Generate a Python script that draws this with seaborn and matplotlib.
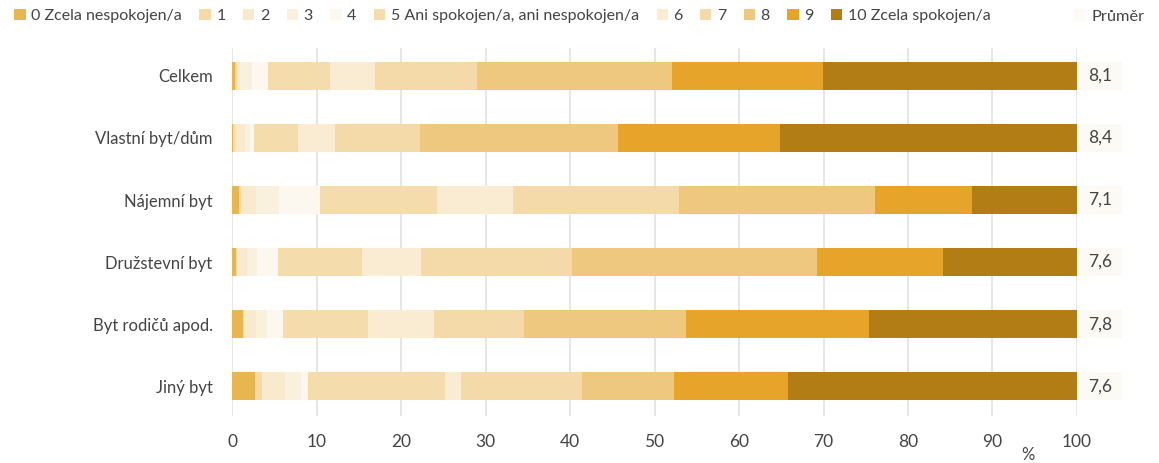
import numpy as np
import pandas as pd
import matplotlib
matplotlib.use('Agg')
import matplotlib.pyplot as plt
from matplotlib.patches import Patch
import seaborn as sns

# categories (rows) and score levels
categories = ['Celkem', 'Vlastní byt/dům', 'Nájemní byt', 'Družstevní byt',
              'Byt rodičů apod.', 'Jiný byt']
levels = ['0 Zcela nespokojen/a', '1', '2', '3', '4',
          '5 Ani spokojen/a, ani nespokojen/a', '6', '7', '8', '9',
          '10 Zcela spokojen/a']

# shares in % for each level, one value per category
s0 = [0.3, 0.1, 0.8, 0.45, 1.3, 2.7]
s1 = [0.3, 0.3, 0.3, 0.15, 0.1, 0.9]
s2 = [0.4, 1.1, 1.7, 1.2, 1.4, 2.7]
s3 = [1.4, 0.6, 2.8, 1.1, 1.4, 1.9]
s4 = [1.9, 0.5, 4.8, 2.6, 1.8, 0.8]
s5 = [7.3, 5.2, 13.9, 9.9, 10.1, 16.2]
s6 = [5.3, 4.4, 9.0, 7.0, 7.8, 1.9]
s7 = [12.1, 10.1, 19.6, 17.8, 10.7, 14.3]
s8 = [23.1, 23.4, 23.2, 29.0, 19.1, 10.9]
s9 = [17.8, 19.2, 11.5, 14.9, 21.7, 13.5]
s10 = [30.1, 35.1, 12.4, 15.9, 24.6, 34.2]

means = ['8,1', '8,4', '7,1', '7,6', '7,8', '7,6']

colors = ['#e8b651', '#f5daa6', '#f9e9cd', '#faf0de', '#fcf8f0', '#f5dcac',
          '#faecd3', '#f4daa8', '#efc87f', '#e6a52a', '#b37d15']
mean_color = '#fcfaf5'
text_color = '#444444'

shares = np.array([s0, s1, s2, s3, s4, s5, s6, s7, s8, s9, s10])
cum = shares.cumsum(axis=0)

sns.set_theme(style='white')
plt.rcParams['font.family'] = ['Lato', 'DejaVu Sans']

fig = plt.figure(figsize=(11.59, 4.63), dpi=100)
W, H = 1159, 463
ax = fig.add_axes([232 / W, 1 - 416 / H, 845 / W, 368 / H])

# stacked bars: draw cumulative totals from the top level down
for i in range(len(levels) - 1, -1, -1):
    df = pd.DataFrame({'cat': categories, 'val': cum[i]})
    sns.barplot(data=df, x='val', y='cat', color=colors[i], orient='h',
                width=0.45, linewidth=0, saturation=1, ax=ax, zorder=2)

ax.set_xlim(0, 100)
ax.set_ylim(5.48, -0.45)
ax.set_xticks(range(0, 101, 10))
ax.grid(axis='x', color='#e2e2e2', linewidth=1.2, zorder=0)
ax.grid(axis='y', visible=False)
ax.set_axisbelow(True)
for sp in ax.spines.values():
    sp.set_visible(False)
ax.tick_params(axis='both', length=0, labelcolor=text_color)
ax.tick_params(axis='x', pad=13, labelsize=12.5)
ax.tick_params(axis='y', pad=14, labelsize=12)
ax.set_ylabel('')
ax.set_xlabel('%', fontsize=12, color=text_color)
ax.xaxis.set_label_coords(0.942, -0.085)

# mean column
ax2 = fig.add_axes([1078 / W, 1 - 416 / H, 44 / W, 368 / H])
dfm = pd.DataFrame({'cat': categories, 'val': [1] * len(categories)})
sns.barplot(data=dfm, x='val', y='cat', color=mean_color, orient='h',
            width=0.45, linewidth=0, saturation=1, ax=ax2)
ax2.set_xlim(0, 1)
ax2.set_ylim(5.48, -0.45)
ax2.axis('off')
for k, m in enumerate(means):
    ax2.text(0.5, k, m, ha='center', va='center', fontsize=12.5, color=text_color)

# legend: score levels on the left, mean entry on the right
handles = [Patch(facecolor=c, edgecolor='none') for c in colors]
fig.legend(handles, levels, loc='upper left', bbox_to_anchor=(0.0, 1.012),
           ncol=len(levels), frameon=False, fontsize=11.5, handlelength=0.7,
           handleheight=0.7, handletextpad=0.35, columnspacing=1.1,
           labelcolor=text_color)
fig.legend([Patch(facecolor=mean_color, edgecolor='none')], ['Průměr'],
           loc='upper right', bbox_to_anchor=(1.0, 1.012), frameon=False,
           fontsize=11.8, handlelength=0.7, handleheight=0.7,
           handletextpad=0.35, labelcolor=text_color)

fig.savefig('out.png', dpi=100)
